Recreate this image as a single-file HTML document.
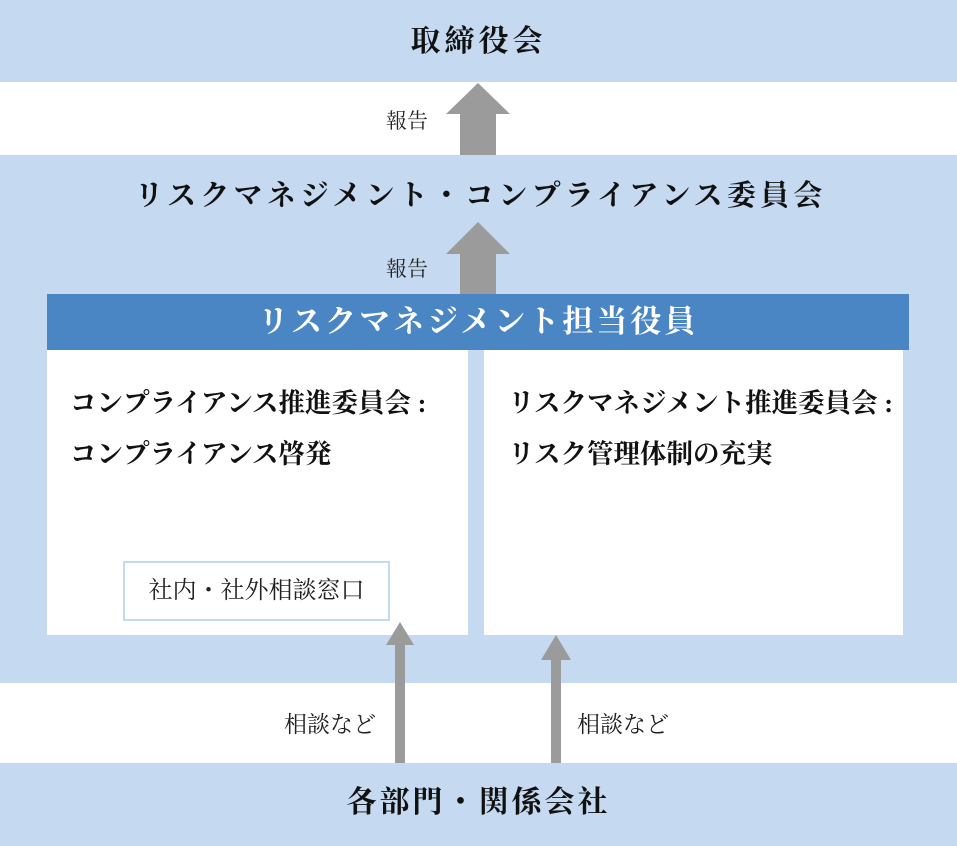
<!DOCTYPE html>
<html><head><meta charset="utf-8"><style>
body{margin:0;width:957px;height:846px;position:relative;background:#fff;font-family:"Liberation Serif","Noto Serif CJK SC",serif;overflow:hidden}
div{position:absolute;box-sizing:border-box}
.band{left:0;width:957px;background:#c5d9f0}
.t{left:0;width:957px;text-align:center;font-weight:bold;color:#111}
.lbl{font-size:21px;color:#222;white-space:nowrap}
.lb2{font-size:23px;color:#222;white-space:nowrap}
.b{font-size:26.5px;font-weight:bold;color:#111;line-height:51px;white-space:nowrap}
</style></head><body>
<div class="band" style="top:0;height:82px"></div>
<div class="band" style="top:155px;height:528px"></div>
<div class="band" style="top:763px;height:83px"></div>
<div class="t" style="top:22px;font-size:30px;letter-spacing:4px;line-height:40px">取締役会</div>
<div class="t" style="top:176px;font-size:29px;letter-spacing:4.2px;line-height:40px;padding-left:4px">リスクマネジメント・コンプライアンス委員会</div>
<div class="t" style="top:783px;font-size:30px;letter-spacing:3px;line-height:40px">各部門・関係会社</div>
<div style="left:47px;top:294px;width:862px;height:56px;background:#4a86c4;color:#fff;text-align:center;font-size:31px;font-weight:bold;letter-spacing:3px;line-height:56px">リスクマネジメント担当役員</div>
<div style="left:47px;top:350px;width:421px;height:285px;background:#fff"></div>
<div style="left:484px;top:350px;width:419px;height:285px;background:#fff"></div>
<div class="b" style="left:70px;top:378px">コンプライアンス推進委員会&nbsp;:<br>コンプライアンス啓発</div>
<div class="b" style="left:508px;top:378px">リスクマネジメント推進委員会&nbsp;:<br>リスク管理体制の充実</div>
<div style="left:123px;top:561px;width:267px;height:60px;border:2px solid #c5d9f0;font-size:24px;color:#222;text-align:center;line-height:56px">社内・社外相談窓口</div>
<div class="lbl" style="left:386px;top:105px">報告</div>
<div class="lbl" style="left:386px;top:253px">報告</div>
<div class="lb2" style="left:284px;top:706px">相談など</div>
<div class="lb2" style="left:577px;top:706px">相談など</div>
<svg style="position:absolute;left:0;top:0" width="957" height="846">
<g fill="#9b9b9b">
<polygon points="478,83 510,114 496,114 496,155 460,155 460,114 446,114"/>
<polygon points="478,222 510,254 496,254 496,294 460,294 460,254 446,254"/>
<polygon points="400,622 414,645 405,645 405,763 395,763 395,645 386,645"/>
<polygon points="556,635 571,660 561,660 561,763 551,763 551,660 541,660"/>
</g></svg>
</body></html>
